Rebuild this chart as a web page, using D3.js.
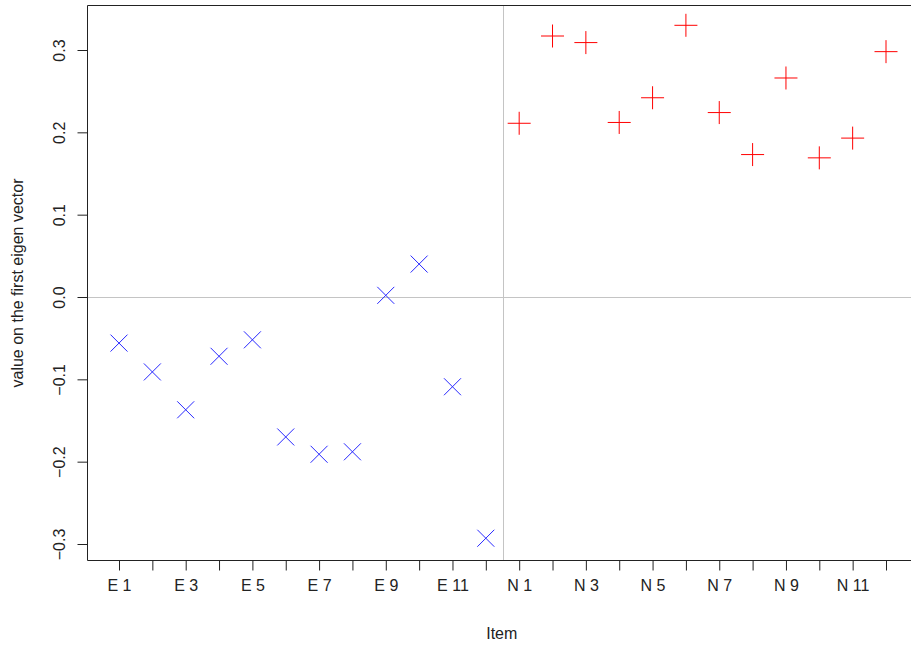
<!DOCTYPE html>
<html>
<head>
<meta charset="utf-8">
<script src="https://cdn.jsdelivr.net/npm/d3@7"></script>
<style>
  body { margin: 0; background: #fff; }
  svg { display: block; font-family: "Liberation Sans", Arial, sans-serif; }
</style>
</head>
<body>
<svg id="chart"></svg>
<script>
// item labels and first eigen vector loadings
const eItems = ["E 1","E 2","E 3","E 4","E 5","E 6","E 7","E 8","E 9","E 10","E 11","E 12"];
const nItems = ["N 1","N 2","N 3","N 4","N 5","N 6","N 7","N 8","N 9","N 10","N 11","N 12"];
const eValues = [-0.056, -0.091, -0.137, -0.072, -0.052, -0.170, -0.191, -0.188, 0.002, 0.040, -0.109, -0.293];
const nValues = [0.211, 0.317, 0.309, 0.212, 0.242, 0.330, 0.224, 0.173, 0.266, 0.169, 0.193, 0.298];
const yTicks = [-0.3, -0.2, -0.1, 0.0, 0.1, 0.2, 0.3];

const items = eItems.concat(nItems);
const data = items.map((name, i) => ({
  idx: i + 1,
  name: name,
  group: i < eItems.length ? "E" : "N",
  value: i < eItems.length ? eValues[i] : nValues[i - eItems.length]
}));

const width = 911;
const height = 647;
const plotLeft = 87.5, plotTop = 5.5, plotBottom = 560.5, plotRight = 920;

const svg = d3.select("#chart")
  .attr("width", width)
  .attr("height", height);

const x = d3.scaleLinear().domain([1, 24]).range([119, 886]);
const y = d3.scaleLinear().domain([-0.3, 0.3]).range([544, 50]);

// reference lines
svg.append("line")
  .attr("x1", plotLeft).attr("x2", plotRight)
  .attr("y1", Math.round(y(0)) + 0.5).attr("y2", Math.round(y(0)) + 0.5)
  .attr("stroke", "#c4c4c4");
svg.append("line")
  .attr("x1", Math.round(x(12.5)) + 0.5).attr("x2", Math.round(x(12.5)) + 0.5)
  .attr("y1", plotTop).attr("y2", plotBottom)
  .attr("stroke", "#c4c4c4");

// frame (top, left, bottom)
svg.append("path")
  .attr("d", `M${plotRight},${plotTop}H${plotLeft}V${plotBottom}H${plotRight}`)
  .attr("fill", "none")
  .attr("stroke", "#222");

// x axis
const xAxis = d3.axisBottom(x)
  .tickValues(d3.range(1, 25))
  .tickSize(10)
  .tickPadding(9)
  .tickFormat(d => d % 2 === 1 ? items[d - 1] : "");

const gx = svg.append("g")
  .attr("transform", `translate(0,${plotBottom})`)
  .call(xAxis);
gx.select(".domain").remove();
gx.selectAll(".tick line").attr("stroke", "#222");
gx.selectAll(".tick text")
  .attr("fill", "#222")
  .style("font-size", "16px");

// y axis
const yAxis = d3.axisLeft(y)
  .tickValues(yTicks)
  .tickSize(10)
  .tickFormat(d3.format(".1f"));

const gy = svg.append("g")
  .attr("transform", `translate(${plotLeft},0)`)
  .call(yAxis);
gy.select(".domain").remove();
gy.selectAll(".tick line").attr("stroke", "#222");
gy.selectAll(".tick text")
  .attr("x", null).attr("dy", null)
  .attr("transform", "translate(-23,0) rotate(-90)")
  .attr("text-anchor", "middle")
  .attr("fill", "#222")
  .style("font-size", "16px");

// axis titles
svg.append("text")
  .attr("x", (plotLeft + 916) / 2)
  .attr("y", 639)
  .attr("text-anchor", "middle")
  .attr("fill", "#222")
  .style("font-size", "16px")
  .text("Item");

svg.append("text")
  .attr("transform", `translate(23,${(plotTop + plotBottom) / 2}) rotate(-90)`)
  .attr("text-anchor", "middle")
  .attr("fill", "#222")
  .style("font-size", "16px")
  .text("value on the first eigen vector");

// markers: X for E items, + for N items
const cross = 8.5, plus = 11.5;
const marks = svg.append("g").attr("fill", "none").attr("stroke-width", 1);

marks.selectAll("path.e")
  .data(data.filter(d => d.group === "E"))
  .join("path")
  .attr("class", "e")
  .attr("stroke", "#2828ff")
  .attr("d", d => {
    const cx = x(d.idx), cy = y(d.value);
    return `M${cx - cross},${cy - cross}L${cx + cross},${cy + cross}M${cx - cross},${cy + cross}L${cx + cross},${cy - cross}`;
  });

marks.selectAll("path.n")
  .data(data.filter(d => d.group === "N"))
  .join("path")
  .attr("class", "n")
  .attr("stroke", "#ff0000")
  .attr("d", d => {
    const cx = x(d.idx), cy = y(d.value);
    return `M${cx - plus},${cy}H${cx + plus}M${cx},${cy - plus}V${cy + plus}`;
  });
</script>
</body>
</html>
